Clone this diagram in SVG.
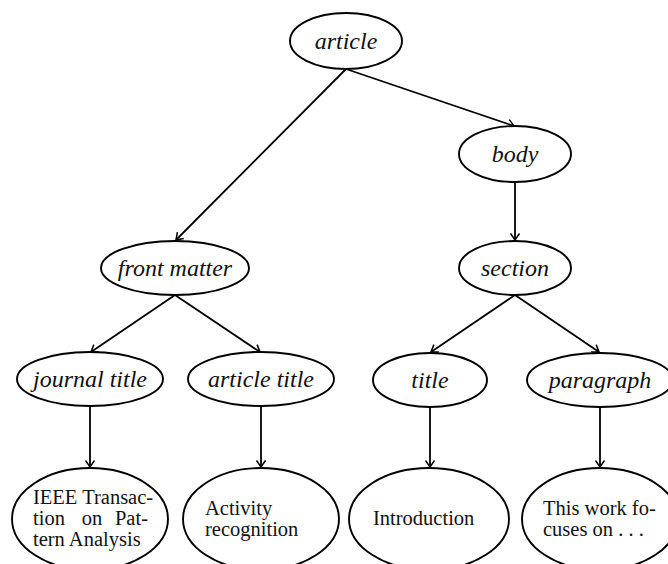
<svg xmlns="http://www.w3.org/2000/svg" width="668" height="564" viewBox="0 0 668 564">
<style>
.n{fill:#fff;stroke:#000;stroke-width:1.9}
.l{font-family:"Liberation Serif","Times New Roman",serif;font-style:italic;font-size:24px;fill:#111;text-anchor:middle}
.t{font-family:"Liberation Serif","Times New Roman",serif;font-size:20.5px;fill:#111}
.r{text-anchor:end}
.m{text-anchor:middle}
.e{fill:none;stroke:#000;stroke-width:1.8;marker-end:url(#ah)}
</style>
<defs>
<marker id="ah" markerUnits="userSpaceOnUse" markerWidth="14" markerHeight="14" viewBox="-8 -7 10 14" refX="0" refY="0" orient="auto">
<path d="M -6.5 -4.5 Q -1.5 -1 0 0 Q -1.5 1 -6.5 4.5" fill="none" stroke="#000" stroke-width="1.5"/>
</marker>
</defs>
<g id="connectors">
<line class="e" x1="346" y1="69" x2="176" y2="240"/>
<line class="e" x1="346" y1="69" x2="514" y2="126"/>
<line class="e" x1="515" y1="182" x2="515" y2="240"/>
<line class="e" x1="175" y1="295" x2="91" y2="352"/>
<line class="e" x1="175" y1="295" x2="260" y2="352"/>
<line class="e" x1="515" y1="295" x2="431" y2="352"/>
<line class="e" x1="515" y1="295" x2="599" y2="352"/>
<line class="e" x1="90" y1="406" x2="90" y2="467"/>
<line class="e" x1="261" y1="406" x2="261" y2="467"/>
<line class="e" x1="430" y1="407" x2="430" y2="467"/>
<line class="e" x1="600" y1="407" x2="600" y2="467"/>
</g>
<g id="article"><ellipse class="n" cx="346" cy="41" rx="56" ry="28"/><text class="l" x="346" y="49">article</text></g>
<g id="body"><ellipse class="n" cx="515" cy="154" rx="56" ry="28"/><text class="l" x="515" y="162">body</text></g>
<g id="section"><ellipse class="n" cx="515" cy="268" rx="56" ry="27"/><text class="l" x="515" y="276">section</text></g>
<g id="front-matter"><ellipse class="n" cx="175" cy="268" rx="74" ry="27"/><text class="l" x="175" y="276">front matter</text></g>
<g id="journal-title"><ellipse class="n" cx="90" cy="379" rx="73" ry="27"/><text class="l" x="90" y="387">journal title</text></g>
<g id="article-title"><ellipse class="n" cx="261" cy="379" rx="73" ry="27"/><text class="l" x="261" y="387">article title</text></g>
<g id="title"><ellipse class="n" cx="430" cy="380" rx="57" ry="27"/><text class="l" x="430" y="388">title</text></g>
<g id="paragraph"><ellipse class="n" cx="600" cy="380" rx="73" ry="27"/><text class="l" x="600" y="388">paragraph</text></g>
<g id="leaf-ieee"><ellipse class="n" cx="90" cy="519" rx="78" ry="51"/>
<text class="t" x="33" y="504">IEEE Transac-</text>
<text class="t" x="33" y="525">tion</text><text class="t m" x="92" y="525">on</text><text class="t r" x="148" y="525">Pat-</text>
<text class="t" x="33" y="546">tern Analysis</text></g>
<g id="leaf-activity"><ellipse class="n" cx="261" cy="519" rx="78" ry="51"/>
<text class="t" x="205" y="515">Activity</text>
<text class="t" x="205" y="536">recognition</text></g>
<g id="leaf-intro"><ellipse class="n" cx="429" cy="519" rx="80" ry="51"/>
<text class="t" x="373" y="525">Introduction</text></g>
<g id="leaf-work"><ellipse class="n" cx="600" cy="519" rx="78" ry="51"/>
<text class="t" x="543" y="515">This work fo-</text>
<text class="t" x="543" y="536">cuses on . . .</text></g>
</svg>
